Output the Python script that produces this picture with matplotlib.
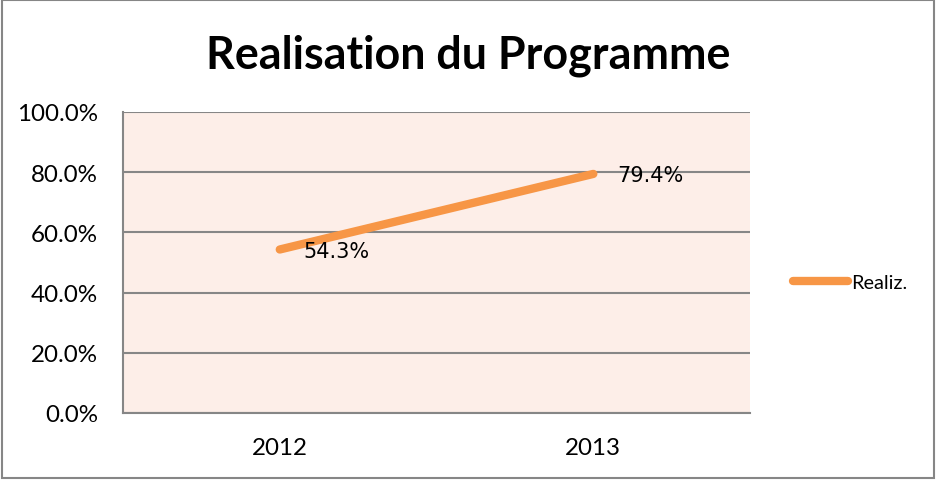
import matplotlib.pyplot as plt
from matplotlib.patches import Rectangle

years = ['2012', '2013']
realiz = [54.3, 79.4]
labels = ['54.3%', '79.4%']

fig = plt.figure(figsize=(9.36, 4.81), dpi=100)
ax = fig.add_axes([0.1314, 0.1393, 0.670, 0.626])

ax.set_facecolor('#fdeee8')
x = range(len(years))
ax.plot(x, realiz, color='#f79646', linewidth=6, solid_capstyle='round', label='Realiz.')
for i, v in enumerate(realiz):
    ax.annotate(labels[i], (i, v), xytext=(17, -1), textcoords='offset points',
                va='center', ha='left', fontsize=15, family='DejaVu Sans')

ax.set_xlim(-0.5, 1.5)
ax.set_ylim(0, 100)
ax.set_yticks([0, 20, 40, 60, 80, 100])
ax.set_yticklabels(['0.0%', '20.0%', '40.0%', '60.0%', '80.0%', '100.0%'])
ax.set_xticks(list(x))
ax.set_xticklabels(years)
ax.tick_params(length=0, labelsize=17.4)
ax.tick_params(axis='y', pad=18)
ax.tick_params(axis='x', pad=17)
for lab in ax.get_xticklabels() + ax.get_yticklabels():
    lab.set_family('Lato')

ax.grid(axis='y', color='#868686', linewidth=1.5)
ax.set_axisbelow(True)
for s in ['top', 'right']:
    ax.spines[s].set_visible(False)
for s in ['left', 'bottom']:
    ax.spines[s].set_color('#868686')
    ax.spines[s].set_linewidth(1.5)

fig.text(0.5, 0.884, 'Realisation du Programme', ha='center', va='center',
         fontsize=32.3, fontweight='bold', family='Lato')

fig.legend(loc='center left', bbox_to_anchor=(0.828, 0.41), frameon=False,
           prop={'family': 'Lato', 'size': 14.3}, handlelength=2.8, handletextpad=0.15)

fig.patches.append(Rectangle((0.002, 0.004), 0.996, 0.994, transform=fig.transFigure,
                             fill=False, edgecolor='#868686', linewidth=1.5))

fig.savefig('out.png', dpi=100)
